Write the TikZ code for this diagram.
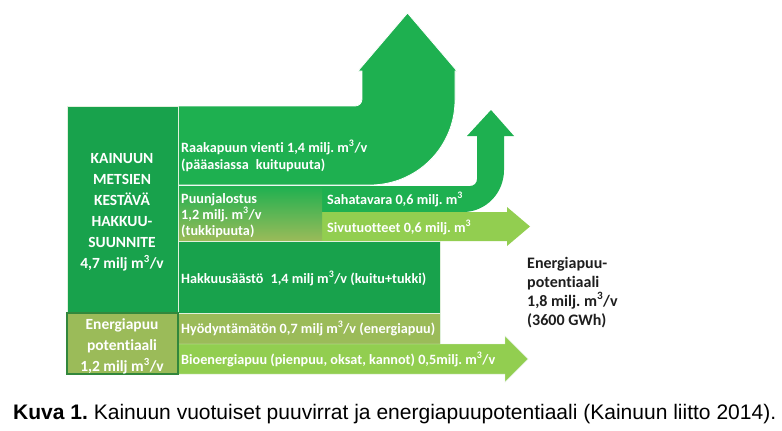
\documentclass[tikz,border=0pt]{standalone}
\usepackage{fontspec}
\setmainfont{Carlito}[Ligatures=NoCommon]
\newfontfamily\capfont{Liberation Sans}
\newcommand\mcub{m\textsuperscript{3}}
\frenchspacing
\definecolor{cdark}{RGB}{24,162,76}
\definecolor{cgreen}{RGB}{30,176,80}
\definecolor{clight}{RGB}{146,206,80}
\definecolor{colive}{RGB}{155,187,89}
\definecolor{cborder}{RGB}{50,135,60}
\definecolor{ctext}{RGB}{30,30,30}
\definecolor{csep}{RGB}{225,240,220}
\begin{document}
\frenchspacing
\begin{tikzpicture}[x=1pt,y=-1pt,
  bandtxt/.style={font=\fontsize{14.2}{16}\selectfont\bfseries, text=white, anchor=base west, inner sep=0pt},
  coltxt/.style={font=\fontsize{15.5}{17}\selectfont\bfseries, text=white, anchor=base, inner sep=0pt},
  sidetxt/.style={font=\fontsize{16}{18}\selectfont\bfseries, text=ctext, anchor=base west, inner sep=0pt},
  sep/.style={draw=csep, line width=0.45pt}]
\useasboundingbox (0,0) rectangle (782,431);
\fill[white] (0,0) rectangle (782,431);

% Sahatavara band with small up arrow
\path[fill=cgreen] (322,186) -- (470,186) .. controls (474,186) and (477,183) .. (477,179) -- (477,136) -- (467,136) -- (491,110) -- (514,136) -- (504,136) -- (504,170) .. controls (504,193) and (486,212) .. (463,212) -- (322,212) -- cycle;
% big band with large up arrow
\path[fill=cgreen, draw=white, line width=0.8pt] (178,106) -- (355,106) .. controls (359,106) and (362,103) .. (362,99) -- (362,71) -- (358,71) -- (407.5,13) -- (457,71) -- (455,71) -- (455,100) .. controls (455,147) and (417,185) .. (370,185) -- (178,185) -- cycle;
% Sivutuotteet arrow
\path[fill=clight] (322,212) -- (507,212) -- (507,207) -- (530,226.5) -- (507,246) -- (507,241) -- (322,241) -- cycle;
% Puunjalostus box
\path[top color=cgreen, bottom color=colive] (178,186) rectangle (322,241);
% Hakkuusaasto
\path[fill=cdark, sep] (178,241) rectangle (440,313);
% Hyodyntamaton
\path[fill=colive, sep] (178,313) rectangle (440,344);
% Bioenergiapuu arrow
\path[fill=clight, sep] (178,344) -- (505,344) -- (505,336) -- (528,359) -- (505,382) -- (505,374) -- (178,374) -- cycle;
% left column
\path[fill=cdark, sep] (67,106) rectangle (178,313);
\path[fill=colive, draw=cborder, line width=1.2pt] (67,313) rectangle (178,374);

% left column text
\node[coltxt] (k1) at (122,163) {KAINUUN};
\node[coltxt] (k2) at (122,184) {METSIEN};
\node[coltxt] (k3) at (122,205) {KESTÄVÄ};
\node[coltxt] (k4) at (122,226) {HAKKUU-};
\node[coltxt] (k5) at (122,247) {SUUNNITE};
\node[coltxt] (k6) at (122,268) {4,7 milj \mcub/v};
\node[coltxt] (e1) at (122,329) {Energiapuu};
\node[coltxt] (e2) at (122,350) {potentiaali};
\node[coltxt] (e3) at (122,371) {1,2 milj \mcub/v};

% band texts
\node[bandtxt] (r1) at (181,152) {Raakapuun vienti 1,4 milj. \mcub/v};
\node[bandtxt] (r2) at (181,169) {(pääasiassa\enspace kuitupuuta)};
\node[bandtxt] (p1) at (181,203) {Puunjalostus};
\node[bandtxt] (p2) at (181,219) {1,2 milj. \mcub/v};
\node[bandtxt] (p3) at (181,235) {(tukkipuuta)};
\node[bandtxt] (s1) at (327,204) {Sahatavara 0,6 milj. \mcub};
\node[bandtxt] (s2) at (327,232) {Sivutuotteet 0,6 milj. \mcub};
\node[bandtxt] (h1) at (181,283) {Hakkuusäästö\enspace 1,4 milj \mcub/v (kuitu+tukki)};
\node[bandtxt] (h2) at (181,333) {Hyödyntämätön 0,7 milj \mcub/v (energiapuu)};
\node[bandtxt] (b1) at (181,364) {Bioenergiapuu (pienpuu, oksat, kannot) 0,5milj. \mcub/v};

% right text
\node[sidetxt] (t1) at (527,268) {Energiapuu-};
\node[sidetxt] (t2) at (527,287) {potentiaali};
\node[sidetxt] (t3) at (527,306) {1,8 milj. \mcub/v};
\node[sidetxt] (t4) at (527,325) {(3600 GWh)};

% caption
\node[anchor=base west, inner sep=0pt] (cap) at (13,419) {\resizebox{763pt}{!}{\capfont\fontsize{18}{20}\selectfont\textbf{Kuva 1.} Kainuun vuotuiset puuvirrat ja energiapuupotentiaali (Kainuun liitto 2014).}};
\end{tikzpicture}
\end{document}
